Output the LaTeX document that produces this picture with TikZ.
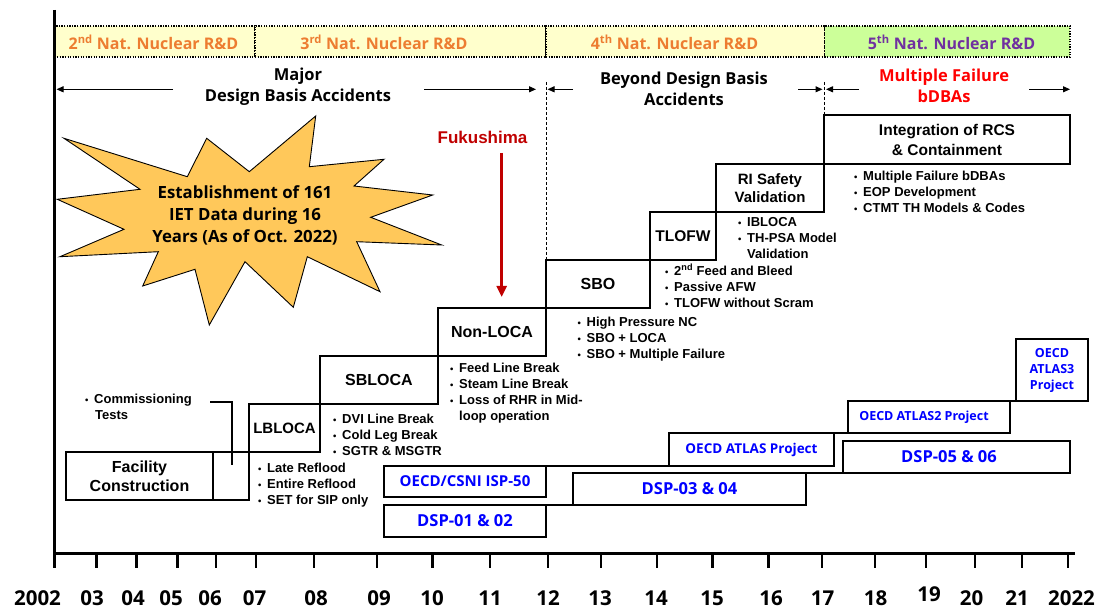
\documentclass[tikz,border=0pt]{standalone}
\usepackage{fontspec}
\setmainfont{Liberation Sans}
\newfontfamily\arialf{Liberation Sans}
\newfontfamily\notof{Open Sans}
\usetikzlibrary{arrows.meta}
\definecolor{bandy}{RGB}{255,255,204}
\definecolor{bandg}{RGB}{204,255,153}
\definecolor{orng}{RGB}{237,125,49}
\definecolor{purp}{RGB}{112,48,160}
\definecolor{starf}{RGB}{255,200,90}
\definecolor{fukred}{RGB}{192,0,0}
\definecolor{bluetxt}{RGB}{0,0,255}
\newcommand\bl{\makebox[9pt][l]{\fontsize{9.5}{9.5}\selectfont\textbullet}}
\newcommand\blind{\hspace*{9pt}}
\begin{document}
\begin{tikzpicture}[x=1pt,y=-1pt,
 stairbox/.style={draw, line width=1.8pt, inner sep=0pt, outer sep=0pt, anchor=north west, align=center, font=\arialf\bfseries\fontsize{16}{19}\selectfont},
 projbox/.style={draw, line width=1.8pt, inner sep=0pt, outer sep=0pt, anchor=north west, align=center, text=bluetxt, font=\notof\bfseries\fontsize{15}{16}\selectfont},
 bullets/.style={anchor=north west, inner sep=0pt, align=left, font=\arialf\bfseries\fontsize{13}{16}\selectfont},
 head/.style={align=center, inner sep=0pt, font=\notof\bfseries\fontsize{16.5}{21}\selectfont},
 bandlbl/.style={inner sep=0pt, font=\notof\bfseries\fontsize{16}{16}\selectfont, text=orng},
 bandbox/.style={draw, dash pattern=on 1.3pt off 1.3pt, line width=1.3pt, inner sep=0pt, outer sep=0pt, anchor=north west, minimum height=31pt},
 span/.style={-{Triangle[length=7pt,width=6pt]}, line width=1pt},
 yearlbl/.style={anchor=base, inner sep=0pt, font=\notof\bfseries\fontsize{20.5}{21}\selectfont},
 tick/.style={line width=2.5pt},
 conn/.style={line width=1.8pt},
 vdash/.style={line width=1pt, dash pattern=on 3pt off 2pt},
]
\useasboundingbox (0,0) rectangle (1099,609);
\fill[white] (0,0) rectangle (1099,609);

% bands
\node[bandbox, fill=bandy, minimum width=200.5pt] (b2) at (54.5,26) {};
\node[bandbox, fill=bandy, minimum width=291pt] (b3) at (255,26) {};
\node[bandbox, fill=bandy, minimum width=278.5pt] (b4) at (546,26) {};
\node[bandbox, fill=bandg, minimum width=245.5pt] (b5) at (824.5,26) {};
\node[bandlbl] (l2) at (153.5,42) {2\textsuperscript{nd} Nat. Nuclear R\&D};
\node[bandlbl] (l3) at (384,42) {3\textsuperscript{rd} Nat. Nuclear R\&D};
\node[bandlbl] (l4) at (674.5,42) {4\textsuperscript{th} Nat. Nuclear R\&D};
\node[bandlbl, text=purp] (l5) at (951.5,42) {5\textsuperscript{th} Nat. Nuclear R\&D};

% headers
\node[head] (major) at (298,87.2) {Major\\Design Basis Accidents};
\node[head] (bdba) at (684,88.5) {Beyond Design Basis\\Accidents};
\node[head, text=red] (mfb) at (944,86) {Multiple Failure\\bDBAs};
\coordinate (a1s) at (173,89.3); \coordinate (a1e) at (56.5,89.3);
\coordinate (a2s) at (424,89.3); \coordinate (a2e) at (536,89.3);
\coordinate (a3s) at (573,89.3); \coordinate (a3e) at (547.5,89.3);
\coordinate (a4s) at (798,89.3); \coordinate (a4e) at (822.5,89.3);
\coordinate (a5s) at (859,89.3); \coordinate (a5e) at (826,89.3);
\coordinate (a6s) at (1029,89.3); \coordinate (a6e) at (1070,89.3);
\draw[span] (a1s) -- (a1e);
\draw[span] (a2s) -- (a2e);
\draw[span] (a3s) -- (a3e);
\draw[span] (a4s) -- (a4e);
\draw[span] (a5s) -- (a5e);
\draw[span] (a6s) -- (a6e);

% starburst
\draw[fill=starf, line width=0.9pt] (64,138.3) -- (187.3,176.7) -- (206.7,138.3) -- (249.3,171.7) -- (315.7,116) -- (309.3,166.7) -- (384,159.3) -- (354,186) -- (432.7,195) -- (370.7,217.3) -- (441.7,245) -- (356.7,241.7) -- (380,291.7) -- (307.3,256.7) -- (293.3,307.3) -- (245,261.7) -- (209.3,325) -- (195,269.3) -- (142.7,286) -- (158.3,251.7) -- (60,256.7) -- (124,229.3) -- (57.3,199.3) -- (140,189.3) -- cycle;
\node[align=center, inner sep=0pt, font=\notof\bfseries\fontsize{16.8}{22}\selectfont] (star) at (245,215.5) {Establishment of 161\\IET Data during 16\\Years (As of Oct. 2022)};

% Fukushima
\node[inner sep=0pt, font=\arialf\bfseries\fontsize{17}{17}\selectfont, text=fukred] (fuk) at (482.5,137.7) {Fukushima};
\coordinate (fa) at (501.7,153); \coordinate (fb) at (501.7,297);
\draw[-{Triangle[length=11pt,width=10pt]}, line width=2.6pt, fukred] (fa) -- (fb);

% staircase
\node[stairbox, minimum width=147pt, minimum height=48pt] (fac) at (66,452) {Facility\\Construction};
\node[stairbox, minimum width=36pt, minimum height=48pt] (fac2) at (213,452) {};
\node[stairbox, minimum width=71pt, minimum height=48pt, font=\arialf\bfseries\fontsize{15}{18}\selectfont] (lbl) at (249,404) {LBLOCA};
\node[stairbox, minimum width=118pt, minimum height=48pt] (sbl) at (320,356) {SBLOCA};
\node[stairbox, minimum width=108pt, minimum height=48pt] (nonl) at (438,308) {Non-LOCA};
\node[stairbox, minimum width=104pt, minimum height=48pt] (sbo) at (546,260) {SBO};
\node[stairbox, minimum width=66pt, minimum height=48pt, font=\arialf\bfseries\fontsize{15.5}{18}\selectfont] (tlofw) at (650,212) {TLOFW};
\node[stairbox, minimum width=108pt, minimum height=48pt, font=\arialf\bfseries\fontsize{15}{18}\selectfont] (ri) at (716,164) {RI Safety\\Validation};
\node[stairbox, minimum width=246pt, minimum height=49pt, font=\arialf\bfseries\fontsize{15.5}{20}\selectfont] (integ) at (824,115) {Integration of RCS\\\& Containment};

\coordinate (d1) at (546,82); \coordinate (d2) at (824,82);
\draw[vdash] (d1) -- (sbo.north west);
\draw[vdash] (d2) -- (integ.north west);

% commissioning
\node[bullets] (cmt) at (85,394) {\bl Commissioning\\\hspace*{10pt}Tests};
\coordinate (c1) at (210,402.3); \coordinate (c2) at (231.7,465);
\draw[line width=1.8pt] (c1) -| (c2);

% bullets
\node[bullets] (lbb) at (258,463) {\bl Late Reflood\\\bl Entire Reflood\\\bl SET for SIP only};
\node[bullets] (sbb) at (333,414) {\bl DVI Line Break\\\bl Cold Leg Break\\\bl SGTR \& MSGTR};
\node[bullets] (nlb) at (450,363) {\bl Feed Line Break\\\bl Steam Line Break\\\bl Loss of RHR in Mid-\\\blind loop operation};
\node[bullets] (sbob) at (577.5,317) {\bl High Pressure NC\\\bl SBO + LOCA\\\bl SBO + Multiple Failure};
\node[bullets] (tlb) at (665,264) {\bl 2\textsuperscript{nd} Feed and Bleed\\\bl Passive AFW\\\bl TLOFW without Scram};
\node[bullets] (rib) at (738,217) {\bl IBLOCA\\\bl TH-PSA Model\\\blind Validation};
\node[bullets] (intb) at (854,171) {\bl Multiple Failure bDBAs\\\bl EOP Development\\\bl CTMT TH Models \& Codes};

% projects
\node[projbox, minimum width=162pt, minimum height=31pt] (isp) at (384,466) {OECD/CSNI ISP-50};
\node[projbox, minimum width=162pt, minimum height=32pt, font=\notof\bfseries\fontsize{16.5}{17}\selectfont] (dsp1) at (384,505) {DSP-01 \& 02};
\node[projbox, minimum width=233pt, minimum height=32pt, font=\notof\bfseries\fontsize{16.5}{17}\selectfont] (dsp3) at (573,473) {DSP-03 \& 04};
\node[projbox, minimum width=165pt, minimum height=33pt, font=\notof\bfseries\fontsize{13.5}{15}\selectfont] (atl) at (669,433) {OECD ATLAS Project};
\node[projbox, minimum width=227pt, minimum height=32pt, font=\notof\bfseries\fontsize{16.5}{17}\selectfont] (dsp5) at (843,441) {DSP-05 \& 06\hspace*{15pt}};
\node[projbox, minimum width=162pt, minimum height=32pt, font=\notof\bfseries\fontsize{12.5}{14}\selectfont] (atl2) at (848,401) {OECD ATLAS2 Project\hspace*{10pt}};
\node[projbox, minimum width=72pt, minimum height=62pt, font=\notof\bfseries\fontsize{12.5}{16}\selectfont] (atl3) at (1016,339) {OECD\\ATLAS3\\Project};
\draw[conn] (isp.north east) -- (atl.south west);
\draw[conn] (dsp1.north east) -- (dsp3.south west);
\draw[conn] (dsp3.north east) -- (dsp5.south west);
\draw[conn] (atl.north east) -- (atl2.south west);
\draw[conn] (atl2.north east) -- (atl3.south west);

% axes
\coordinate (ytop) at (54,10); \coordinate (ybot) at (54,568);
\coordinate (xl) at (54,553); \coordinate (xr) at (1075,553);
\draw[line width=3pt] (ytop) -- (ybot);
\draw[line width=3pt] (xl) -- (xr);
\foreach \t in {96.7,136.7,177.7,216,256,314,377,432.6,490,548,601,657,712.5,768.5,822,875,926,975,1022,1068}
  \draw[tick] (\t,553) -- (\t,568);
\foreach \c/\l in {37.5/2002,92/03,133/04,171/05,210/06,254.5/07,316/08,379/09,432/10,490/11,548/12,600/13,656/14,712/15,771/16,822.5/17,875.5/18,971.5/20,1017/21,1071.5/2022}
  \node[yearlbl] (yr\l) at (\c,605) {\l};
\node[yearlbl] (yr19) at (929,601) {19};
\end{tikzpicture}
\end{document}
